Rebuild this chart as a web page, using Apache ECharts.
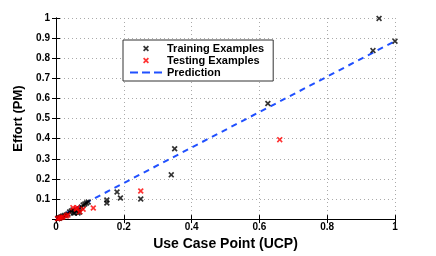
<!DOCTYPE html>
<html>
<head>
<meta charset="utf-8">
<script src="https://cdn.jsdelivr.net/npm/echarts@6/dist/echarts.min.js"></script>
<style>html,body{margin:0;padding:0;background:#fff;}#c{width:436px;height:256px;}</style>
</head>
<body>
<div id="c"></div>
<script>
const trainingX = [0.005,0.008,0.010,0.012,0.015,0.018,0.020,0.025,0.030,0.035,0.040,0.045,0.050,0.052,0.055,0.060,0.065,0.070,0.068,0.075,0.080,0.085,0.090,0.095,0.150,0.150,0.180,0.190,0.250,0.340,0.350,0.625,0.935,0.953,1.000];
const trainingY = [0.003,0.006,0.004,0.008,0.010,0.012,0.015,0.018,0.020,0.025,0.035,0.040,0.045,0.030,0.030,0.040,0.030,0.035,0.050,0.060,0.070,0.075,0.080,0.085,0.095,0.080,0.135,0.105,0.100,0.220,0.350,0.575,0.838,0.998,0.885];
const testingX = [0.005,0.010,0.015,0.020,0.030,0.035,0.050,0.060,0.063,0.070,0.080,0.110,0.250,0.660];
const testingY = [0.002,0.005,0.008,0.010,0.015,0.020,0.057,0.050,0.057,0.036,0.049,0.055,0.140,0.395];
const predX = [0, 1];
const predY = [0.003, 0.885];
const xTicks = [0, 0.2, 0.4, 0.6, 0.8, 1];
const yTicks = [0, 0.1, 0.2, 0.3, 0.4, 0.5, 0.6, 0.7, 0.8, 0.9, 1];

const zip = (a, b) => a.map((v, i) => [v, b[i]]);
const xMark = 'path://M0,2L2,0L5,3L8,0L10,2L7,5L10,8L8,10L5,7L2,10L0,8L3,5Z';
const dashIcon = 'path://M0,0L8,0L8,2L0,2ZM12,0L20,0L20,2L12,2ZM24,0L32,0L32,2L24,2Z';
const font = '"Liberation Sans", Arial, sans-serif';
const fmt = v => { if (v === 0) return '0'; return (Math.round(v*10)/10).toString(); };

const axisCommon = {
  axisLine: {show: true, lineStyle: {color: '#000', width: 1}},
  axisTick: {show: true, inside: true, length: 4, lineStyle: {color: '#000'}},
};

const chart = echarts.init(document.getElementById('c'), null, {renderer: 'canvas'});
chart.setOption({
  animation: false,
  backgroundColor: '#fff',
  grid: {left: 56, right: 41, top: 18, bottom: 28},
  legend: {
    left: 123, top: 40, orient: 'vertical',
    borderColor: '#333', borderWidth: 1, backgroundColor: '#fff',
    padding: [3, 9, 3, 7], itemGap: 1, itemWidth: 32, itemHeight: 6,
    textStyle: {fontFamily: font, fontWeight: 'bold', fontSize: 11, color: '#000'},
    data: [
      {name: 'Training Examples', icon: xMark, itemStyle: {color: '#000'}},
      {name: 'Testing Examples', icon: xMark, itemStyle: {color: '#f00'}},
      {name: 'Prediction', icon: dashIcon, itemStyle: {color: '#2050ff'}}
    ]
  },
  xAxis: [{
    type: 'value', min: 0, max: 1, interval: 0.2, position: 'bottom',
    ...axisCommon,
    axisLabel: {fontFamily: font, fontWeight: 'bold', fontSize: 10, color: '#000', margin: 3, formatter: fmt},
    splitLine: {show: true, lineStyle: {type: [1, 3], color: '#aaa', width: 1}},
    name: 'Use Case Point (UCP)', nameLocation: 'middle', nameGap: 10,
    nameTextStyle: {fontFamily: font, fontWeight: 'bold', fontSize: 14, color: '#000'}
  }, {
    type: 'value', min: 0, max: 1, interval: 0.2, position: 'top',
    ...axisCommon, axisLabel: {show: false}, splitLine: {show: false}
  }],
  yAxis: [{
    type: 'value', min: 0, max: 1, interval: 0.1, position: 'left',
    ...axisCommon,
    axisLabel: {fontFamily: font, fontWeight: 'bold', fontSize: 10, color: '#000', margin: 6,
      formatter: v => v === 0 ? '' : fmt(v)},
    splitLine: {show: true, lineStyle: {type: [1, 3], color: '#aaa', width: 1}},
    name: 'Effort (PM)', nameLocation: 'middle', nameGap: 24,
    nameTextStyle: {fontFamily: font, fontWeight: 'bold', fontSize: 13, color: '#000'}
  }, {
    type: 'value', min: 0, max: 1, interval: 0.1, position: 'right',
    ...axisCommon, axisLabel: {show: false}, splitLine: {show: false}
  }],
  series: [
    {name: 'Training Examples', type: 'scatter', clip: false, symbol: xMark, symbolSize: 6,
      itemStyle: {color: '#000'}, data: zip(trainingX, trainingY), z: 3},
    {name: 'Testing Examples', type: 'scatter', clip: false, symbol: xMark, symbolSize: 6,
      itemStyle: {color: '#f00'}, data: zip(testingX, testingY), z: 4},
    {name: 'Prediction', type: 'line', showSymbol: false, symbol: 'none',
      lineStyle: {color: '#2050ff', width: 2, type: [6, 5]}, itemStyle: {color: '#2050ff'},
      data: zip(predX, predY), z: 2}
  ]
});
</script>
</body>
</html>
